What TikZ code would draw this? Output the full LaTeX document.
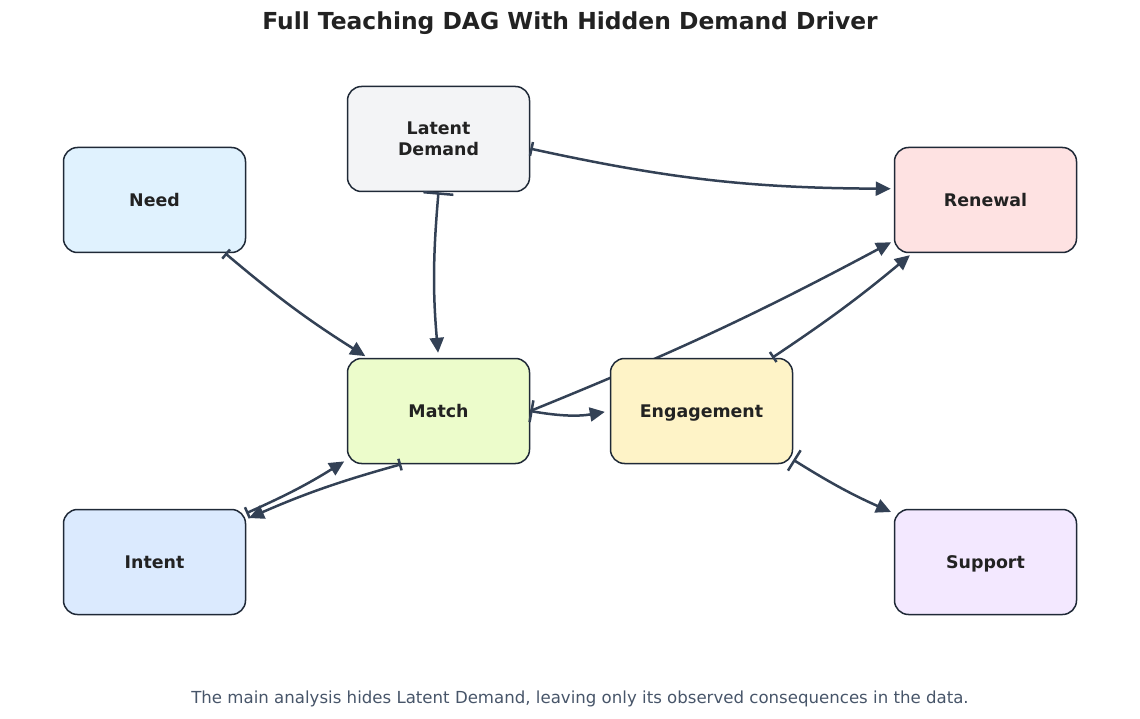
\documentclass[tikz,border=0pt]{standalone}
\usepackage{fontspec}
\setmainfont{DejaVu Sans}
\usetikzlibrary{arrows.meta,backgrounds}
\definecolor{edgec}{HTML}{334155}
\definecolor{borderc}{HTML}{1F2937}
\definecolor{textc}{HTML}{222222}
\definecolor{footc}{HTML}{475569}
\definecolor{cneed}{HTML}{E0F2FE}
\definecolor{clatent}{HTML}{F3F4F6}
\definecolor{crenew}{HTML}{FEE2E2}
\definecolor{cmatch}{HTML}{ECFCCB}
\definecolor{cengage}{HTML}{FEF3C7}
\definecolor{cintent}{HTML}{DBEAFE}
\definecolor{csupport}{HTML}{F3E8FF}
\tikzset{tri/.tip={Triangle[length=15pt,width=14pt]}}
\begin{document}
\begin{tikzpicture}[x=1pt,y=-1pt,
  box/.style={draw=borderc, line width=1.5pt, rounded corners=14pt,
    minimum width=182pt, minimum height=105pt, inner sep=0pt, align=center,
    font=\fontsize{17.4}{20.5}\selectfont\bfseries, text=textc},
  onel/.style={text height=12.6pt, text depth=0pt},
  edge/.style={draw=edgec, line width=2.5pt, line cap=butt, -tri, shorten >=3pt},
]
\useasboundingbox (0,0) rectangle (1140,719);
\node[font=\fontsize{23.4}{28}\selectfont\bfseries, text=textc] (title) at (570,23) {Full Teaching DAG With Hidden Demand Driver};
\node[font=\fontsize{16.6}{20}\selectfont, text=footc] (foot) at (580,698.5) {The main analysis hides Latent Demand, leaving only its observed consequences in the data.};

\node[box, fill=clatent] (latent) at (438.5,139) {Latent\\Demand};
\node[box, onel, fill=cneed] (need) at (154.5,200) {Need};
\node[box, onel, fill=crenew] (renewal) at (985.5,200) {Renewal};
\node[box, onel, fill=cmatch] (match) at (438.5,411) {Match};
\node[box, onel, fill=cengage] (engage) at (701.5,411) {Engagement};
\node[box, onel, fill=cintent] (intent) at (154.5,562) {Intent};
\node[box, onel, fill=csupport] (support) at (985.5,562) {Support};

\begin{scope}[on background layer]
\draw[edge] (match.east) to[bend right=3] (renewal.204);
\end{scope}

\draw[edge, {Bar[width=30pt]}-tri, shorten >=5pt] (latent.south) to[bend right=5] (match.north);
\draw[edge, {Bar[width=14pt]}-tri] (latent.-6.5) to[bend right=6] (renewal.173.5);
\draw[edge, {Bar[width=12pt]}-tri] (need.-37) to[bend right=4] (match.143.4);
\draw[edge, {Bar[width=12pt]}-tri] (intent.28) to[bend right=4] (match.208);
\draw[edge, {Bar[width=12pt]}-tri] (match.235) to[bend right=4] (intent.25);
\draw[edge, {Bar[width=22pt]}-tri, shorten >=5pt] (match.east) to[bend right=10] (engage.west);
\draw[edge, {Bar[width=12pt]}-tri] (engage.37) to[bend right=3] (renewal.216.5);
\draw[edge, {Bar[width=24pt]}-tri] (engage.-28.5) to[bend right=4] (support.152);
\end{tikzpicture}
\end{document}
